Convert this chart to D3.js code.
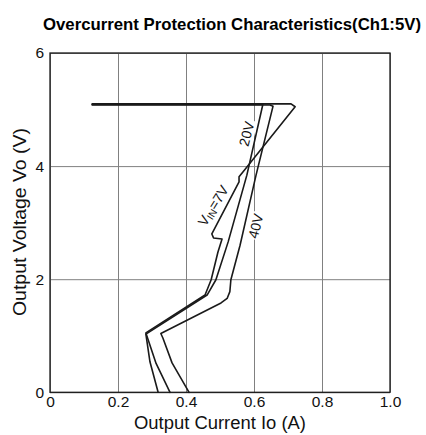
<!DOCTYPE html>
<html>
<head>
<meta charset="utf-8">
<script src="https://cdn.jsdelivr.net/npm/d3@7"></script>
<style>
  html, body { margin: 0; padding: 0; background: #fff; }
  svg { display: block; }
  text { font-family: "Liberation Sans", Arial, Helvetica, sans-serif; }
</style>
</head>
<body>
<svg id="chart" width="426" height="435"></svg>
<script>
// ---- data ----
const xTicks = [0, 0.2, 0.4, 0.6, 0.8, 1.0];
const yTicks = [0, 2, 4, 6];

const seriesNames = ["7V", "20V", "40V"];

// VIN = 7V
const current7V = [0.124, 0.709, 0.721, 0.568, 0.556, 0.556, 0.476, 0.481, 0.506, 0.494, 0.474, 0.456, 0.282, 0.312, 0.353];
const voltage7V = [5.10, 5.10, 5.05, 3.90, 3.81, 3.72, 2.80, 2.73, 2.71, 2.48, 1.99, 1.72, 1.05, 0.51, 0];

// VIN = 20V
const current20V = [0.124, 0.626, 0.579, 0.524, 0.488, 0.462, 0.282, 0.294, 0.318];
const voltage20V = [5.09, 5.09, 3.84, 2.66, 1.99, 1.72, 1.03, 0.54, 0];

// VIN = 40V
const current40V = [0.124, 0.647, 0.656, 0.606, 0.559, 0.532, 0.529, 0.521, 0.503, 0.326, 0.332, 0.359, 0.409];
const voltage40V = [5.08, 5.08, 5.06, 3.84, 2.60, 1.99, 1.78, 1.66, 1.58, 1.04, 0.96, 0.52, 0];

// curve labels (data coordinates of label centres)
const labelText = ["20V", "VIN=7V", "40V"];
const labelCurrent = [0.578, 0.480, 0.605];
const labelVoltage = [4.57, 3.30, 2.94];
const labelAngle = [-76, -58, -76];

// ---- layout ----
const svg = d3.select("#chart");
const mLeft = 50, mRight = 390, mTop = 53, mBottom = 392.3;

const x = d3.scaleLinear().domain([0, 1]).range([mLeft, mRight]);
const y = d3.scaleLinear().domain([0, 6]).range([mBottom, mTop]);

// title
svg.append("text")
  .attr("x", 232).attr("y", 30)
  .attr("text-anchor", "middle")
  .attr("font-size", 17).attr("font-weight", "bold")
  .attr("textLength", 378).attr("lengthAdjust", "spacingAndGlyphs")
  .text("Overcurrent Protection Characteristics(Ch1:5V)");

// grid + tick labels via axes
const gx = svg.append("g")
  .attr("transform", `translate(0,${mBottom})`)
  .call(d3.axisBottom(x).tickValues(xTicks)
    .tickSizeInner(-(mBottom - mTop)).tickSizeOuter(0).tickPadding(4)
    .tickFormat(d => d === 0 ? "0" : d3.format(".1f")(d)));
gx.select(".domain").remove();
gx.selectAll(".tick line").attr("stroke", "#808080").attr("stroke-width", 1);
gx.selectAll(".tick text").attr("font-size", 15.5).attr("fill", "#111")
  .attr("font-family", "Liberation Sans, Arial, sans-serif");

const gy = svg.append("g")
  .attr("transform", `translate(${mLeft},0)`)
  .call(d3.axisLeft(y).tickValues(yTicks)
    .tickSizeInner(-(mRight - mLeft)).tickSizeOuter(0).tickPadding(6)
    .tickFormat(d3.format("d")));
gy.select(".domain").remove();
gy.selectAll(".tick line").attr("stroke", "#808080").attr("stroke-width", 1);
gy.selectAll(".tick text").attr("font-size", 15.5).attr("fill", "#111")
  .attr("font-family", "Liberation Sans, Arial, sans-serif");

// frame
svg.append("rect")
  .attr("x", mLeft).attr("y", mTop)
  .attr("width", mRight - mLeft).attr("height", mBottom - mTop)
  .attr("fill", "none").attr("stroke", "#1a1a1a").attr("stroke-width", 1.3);

// label groups (white backgrounds first, text later on top of curves)
const labelGroups = labelText.map((t, i) => svg.append("g")
  .attr("transform", `translate(${x(labelCurrent[i])},${y(labelVoltage[i])}) rotate(${labelAngle[i]})`));

function writeLabel(g, t) {
  const txt = g.append("text")
    .attr("text-anchor", "middle")
    .attr("dominant-baseline", "central")
    .attr("font-size", 14)
    .attr("fill", "#111");
  if (t.startsWith("VIN")) {
    txt.append("tspan").text("V");
    txt.append("tspan").attr("font-size", 10).attr("dy", 3).text("IN");
    txt.append("tspan").attr("dy", -3).text(t.slice(3));
  } else {
    txt.text(t);
  }
  return txt;
}

labelGroups.forEach((g, i) => {
  const tmp = writeLabel(g, labelText[i]);
  const bb = tmp.node().getBBox();
  tmp.remove();
  g.append("rect")
    .attr("x", bb.x - 1).attr("y", bb.y)
    .attr("width", bb.width + 2).attr("height", bb.height)
    .attr("fill", "#fff");
});

// curves
const curves = [
  d3.zip(current7V, voltage7V),
  d3.zip(current20V, voltage20V),
  d3.zip(current40V, voltage40V)
];
const line = d3.line().x(d => x(d[0])).y(d => y(d[1])).curve(d3.curveLinear);

svg.append("g").selectAll("path")
  .data(curves)
  .join("path")
  .attr("d", line)
  .attr("fill", "none")
  .attr("stroke", "#1a1a1a")
  .attr("stroke-width", 1.6)
  .attr("stroke-linejoin", "round")
  .attr("stroke-linecap", "round");

// label text
labelGroups.forEach((g, i) => writeLabel(g, labelText[i]));

// axis titles
svg.append("text")
  .attr("x", 220).attr("y", 429)
  .attr("text-anchor", "middle")
  .attr("font-size", 18).attr("fill", "#111")
  .attr("textLength", 172).attr("lengthAdjust", "spacingAndGlyphs")
  .text("Output Current Io (A)");

svg.append("text")
  .attr("transform", "translate(26,222) rotate(-90)")
  .attr("text-anchor", "middle")
  .attr("font-size", 18).attr("fill", "#111")
  .attr("textLength", 188).attr("lengthAdjust", "spacingAndGlyphs")
  .text("Output Voltage Vo (V)");
</script>
</body>
</html>
